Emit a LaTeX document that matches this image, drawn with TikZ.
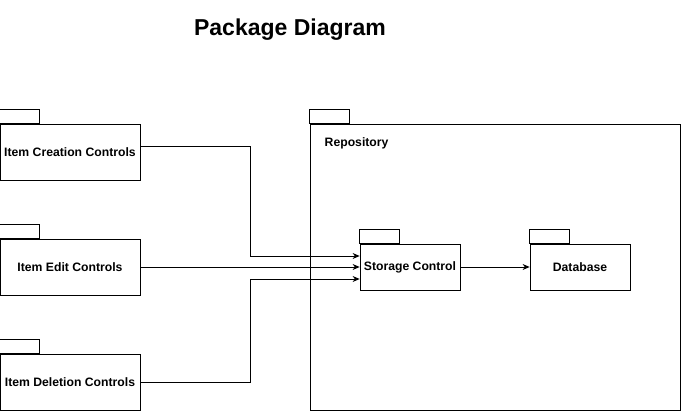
\documentclass[tikz,border=0pt]{standalone}
\usepackage{fontspec}
\setmainfont{Liberation Sans}
\usetikzlibrary{arrows.meta}
\begin{document}
\begin{tikzpicture}[x=1pt, y=-1pt, line width=0.8pt,
    pkg/.style={draw, fill=white, font=\fontsize{12.2}{14}\selectfont\bfseries,
        minimum width=100pt, minimum height=46pt, inner sep=0pt},
    flow/.style={-{Stealth[length=7pt,width=6pt]}}]
    \useasboundingbox (0,0) rectangle (681,411);
    % title
    \node (title) at (290,30) {\fontsize{23}{26}\selectfont\bfseries Package Diagram};
    % repository package
    \node[pkg, minimum width=370pt, minimum height=286pt] (repo) at (495,267) {};
    \draw (repo.north west) rectangle ++(40,-14);
    \node[anchor=west, font=\fontsize{12.2}{14}\selectfont\bfseries] (repolabel) at (321,143) {Repository};
    % packages inside
    \node[pkg] (store) at (410,267) {Storage Control};
    \draw (store.north west) rectangle ++(40,-14);
    \node[pkg] (db) at (580,267) {Database};
    \draw (db.north west) rectangle ++(40,-14);
    % control packages
    \node[pkg, minimum width=140pt, minimum height=56pt] (create) at (70,152) {Item Creation Controls};
    \draw (create.north west) rectangle ++(40,-14);
    \node[pkg, minimum width=140pt, minimum height=56pt] (edit) at (70,267) {Item Edit Controls};
    \draw (edit.north west) rectangle ++(40,-14);
    \node[pkg, minimum width=140pt, minimum height=56pt] (delete) at (70,382) {Item Deletion Controls};
    \draw (delete.north west) rectangle ++(40,-14);
    % dependencies
    \draw[flow] ([yshift=6pt]create.east) -- ++(110,0) |- ([yshift=11pt]store.west);
    \draw[flow] (edit.east) -- (store.west);
    \draw[flow] (delete.east) -- ++(110,0) |- ([yshift=-12pt]store.west);
    \draw[flow] (store.east) -- (db.west);
\end{tikzpicture}
\end{document}
